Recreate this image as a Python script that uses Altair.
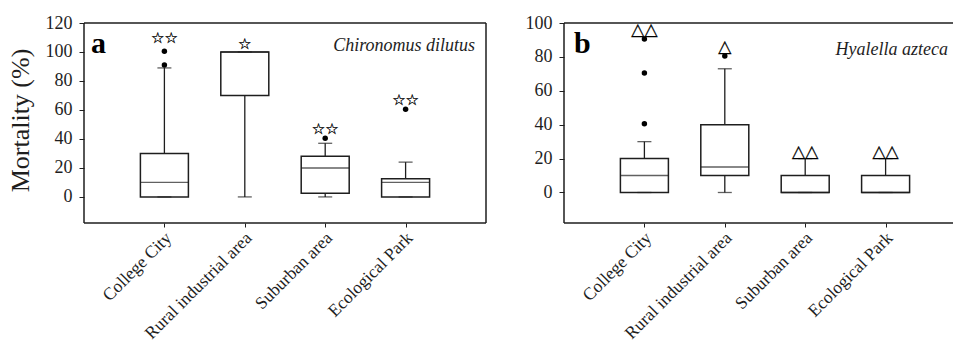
import altair as alt
import pandas as pd

categories = ["College City", "Rural industrial area", "Suburban area", "Ecological Park"]

# Panel a: Chironomus dilutus
a_q1 = [0, 70, 2.5, 0]
a_med = [10, 100, 20, 10]
a_q3 = [30, 100, 28, 12.5]
a_lo = [0, 0, 0, 0]
a_hi = [89, 100, 37, 24]
a_out_cat = ["College City", "College City", "Suburban area", "Ecological Park"]
a_out_val = [91, 100.5, 40.5, 60.5]
a_sym_y = [109.5, 105.5, 47, 67]
a_sym = ["☆☆", "☆", "☆☆", "☆☆"]

# Panel b: Hyalella azteca
b_q1 = [0, 10, 0, 0]
b_med = [10, 15, 0, 0]
b_q3 = [20, 40, 10, 10]
b_lo = [0, 0, 0, 0]
b_hi = [30, 73, 20, 20]
b_out_cat = ["College City", "College City", "College City", "Rural industrial area"]
b_out_val = [40.5, 70.5, 90.5, 80.5]
b_sym_y = [96, 86, 24, 24]
b_sym = ["△△", "△", "△△", "△△"]

panel_letters = ["a", "b"]
species = ["Chironomus dilutus", "Hyalella azteca"]
y_max = [120, 100]

INK = "#1e1e1e"
SERIF = "Liberation Serif"
H = 200
STEP = 80.4


def panel(i, q1, med, q3, lo, hi, out_cat, out_val, sym_y, sym, show_title, letter_x, sp_x, sp_y,
          sym_font, width, right_edge):
    ymax = y_max[i]
    box = pd.DataFrame({"cat": categories, "q1": q1, "med": med, "q3": q3, "lo": lo, "hi": hi})
    outl = pd.DataFrame({"cat": out_cat, "v": out_val})
    syms = pd.DataFrame({"cat": categories, "y": sym_y, "s": sym})
    ann = pd.DataFrame({"letter": [panel_letters[i]], "species": [species[i]]})

    xaxis = alt.Axis(title=None, labelAngle=-45, labelAlign="right", labelBaseline="middle",
                     tickSize=4, labelPadding=8, labelOffset=4, domain=False, grid=False,
                     labelFont=SERIF, labelFontSize=17.5, labelColor=INK, tickColor=INK)
    xenc = alt.X("cat:N", sort=categories,
                 scale=alt.Scale(type="point", range=[STEP, 4 * STEP], padding=0), axis=xaxis)
    yscale = alt.Scale(domain=[-18, ymax], nice=False, zero=False)
    yaxis = alt.Axis(values=list(range(0, ymax + 1, 20)), title="Mortality (%)" if show_title else None,
                     tickSize=5, labelPadding=7, domain=False, titlePadding=12, grid=False, titleY=97,
                     labelFont=SERIF, labelFontSize=18, labelColor=INK, tickColor=INK,
                     titleFont=SERIF, titleFontSize=26, titleFontWeight="normal", titleColor=INK)

    def Y(f):
        return alt.Y(f, scale=yscale, axis=yaxis)

    base = alt.Chart(box)
    w_lo = base.mark_rule(color=INK, strokeWidth=1.3).encode(x=xenc, y=Y("lo:Q"), y2="q1:Q")
    w_hi = base.mark_rule(color=INK, strokeWidth=1.3).encode(x=xenc, y=Y("q3:Q"), y2="hi:Q")
    c_lo = base.mark_tick(color=INK, size=14, thickness=1.3).encode(x=xenc, y=Y("lo:Q"))
    c_hi = base.mark_tick(color=INK, size=14, thickness=1.3).encode(x=xenc, y=Y("hi:Q"))
    bx = base.mark_bar(size=48, fill="white", stroke=INK, strokeWidth=1.5).encode(x=xenc, y=Y("q1:Q"), y2="q3:Q")
    md = base.mark_tick(color=INK, size=48, thickness=1.4).encode(x=xenc, y=Y("med:Q"))
    pts = alt.Chart(outl).mark_circle(size=30, color="black", opacity=1).encode(x=xenc, y=Y("v:Q"))
    sy = alt.Chart(syms).mark_text(font="DejaVu Sans", fontSize=sym_font, baseline="middle", color="black",
                                   stroke="black", strokeWidth=0.3).encode(
        x=xenc, y=Y("y:Q"), text="s:N")
    let = alt.Chart(ann).mark_text(font=SERIF, fontWeight="bold", fontSize=30, align="left",
                                   baseline="alphabetic", color="black").encode(
        x=alt.value(letter_x), y=alt.value(30), text="letter:N")
    spc = alt.Chart(ann).mark_text(font=SERIF, fontStyle="italic", fontSize=18, align="right",
                                   baseline="alphabetic", color=INK).encode(
        x=alt.value(sp_x), y=alt.value(sp_y), text="species:N")

    fr = alt.Chart(ann)
    top = fr.mark_rule(color=INK, strokeWidth=1.5).encode(x=alt.value(0), x2=alt.value(width), y=alt.value(0))
    bot = fr.mark_rule(color=INK, strokeWidth=1.5).encode(x=alt.value(0), x2=alt.value(width), y=alt.value(H))
    lef = fr.mark_rule(color=INK, strokeWidth=1.5).encode(x=alt.value(0), y=alt.value(0), y2=alt.value(H))
    layers = [w_lo, w_hi, bx, md, c_lo, c_hi, pts, sy, let, spc, top, bot, lef]
    if right_edge:
        rig = fr.mark_rule(color=INK, strokeWidth=1.5).encode(x=alt.value(width), y=alt.value(0), y2=alt.value(H))
        layers.append(rig)
    return alt.layer(*layers).properties(width=width, height=H)


pa = panel(0, a_q1, a_med, a_q3, a_lo, a_hi, a_out_cat, a_out_val, a_sym_y, a_sym, True, 7, 391, 28, 15,
           402, True)
pb = panel(1, b_q1, b_med, b_q3, b_lo, b_hi, b_out_cat, b_out_val, b_sym_y, b_sym, False, 10, 384, 32, 17,
           389, False)

chart = alt.hconcat(pa, pb, spacing=38).properties(
    padding={"left": 7, "top": 14, "right": 0, "bottom": 0},
    background="white",
).configure_view(stroke="transparent", strokeWidth=0)

chart.save("out.html", embed_options={"renderer": "svg", "actions": False})
